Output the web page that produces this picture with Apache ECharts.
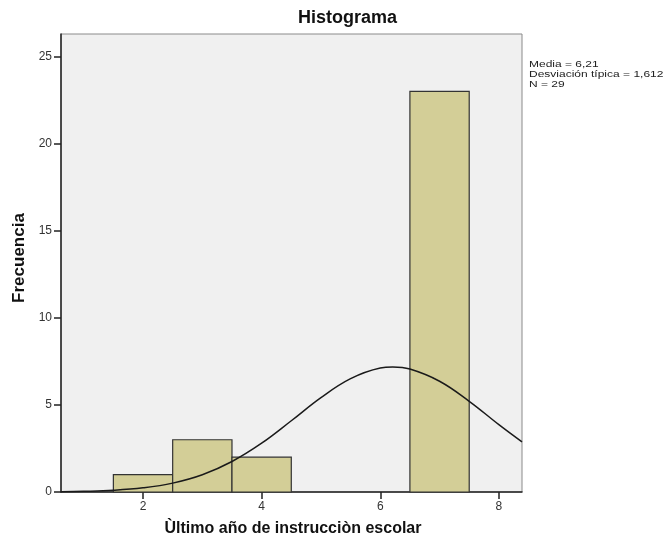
<!DOCTYPE html>
<html>
<head>
<meta charset="utf-8">
<script src="https://cdn.jsdelivr.net/npm/echarts@6/dist/echarts.min.js"></script>
<style>html,body{margin:0;padding:0;background:#fff}#c{width:665px;height:540px}</style>
</head>
<body>
<div id="c"></div>
<script>
// Histogram bins: [start, end]
var binStarts = [1.5, 2.5, 3.5, 6.5];
var binEnds = [2.5, 3.5, 4.5, 7.5];
var binCounts = [1, 3, 2, 23];
// Normal curve points
var curveX = [0.62, 1, 1.5, 2, 2.5, 3, 3.5, 4, 4.5, 5, 5.5, 6, 6.21, 6.5, 7, 7.5, 8, 8.39];
var curveY = [0.02, 0.04, 0.10, 0.24, 0.51, 0.99, 1.75, 2.80, 4.09, 5.42, 6.51, 7.12, 7.18, 7.06, 6.36, 5.21, 3.87, 2.88];
var xTicks = [2, 4, 6, 8];
var yTicks = [0, 5, 10, 15, 20, 25];
var titleText = 'Histograma';
var xName = 'Ùltimo año de instrucciòn escolar';
var yName = 'Frecuencia';
var statsLines = ['Media = 6,21', 'Desviación típica = 1,612', 'N = 29'];

var font = 'Arial, "Liberation Sans", sans-serif';
var chart = echarts.init(document.getElementById('c'), null, {renderer: 'canvas'});

var barData = binStarts.map(function (s, i) { return [s, binEnds[i], binCounts[i]]; });
var curveData = curveX.map(function (x, i) { return [x, curveY[i]]; });

chart.setOption({
  animation: false,
  backgroundColor: '#ffffff',
  grid: {
    left: 61, top: 34, right: 143, bottom: 48,
    show: true, backgroundColor: '#F0F0F0', borderColor: '#8a8a8a', borderWidth: 1
  },
  xAxis: {
    type: 'value', min: 0.617, max: 8.39,
    splitLine: {show: false},
    axisLine: {show: true, onZero: false, lineStyle: {color: '#222', width: 1.5}},
    axisTick: {show: true, length: 7, customValues: xTicks, lineStyle: {color: '#222', width: 1.5}},
    axisLabel: {customValues: xTicks, color: '#333', fontFamily: font, fontSize: 12, margin: 9}
  },
  yAxis: {
    type: 'value', min: 0, max: 26.3,
    splitLine: {show: false},
    axisLine: {show: true, lineStyle: {color: '#222', width: 1.5}},
    axisTick: {show: true, length: 7, customValues: yTicks, lineStyle: {color: '#222', width: 1.5}},
    axisLabel: {customValues: yTicks, color: '#333', fontFamily: font, fontSize: 12, margin: 9}
  },
  series: [
    {
      type: 'custom',
      data: barData,
      encode: {x: [0, 1], y: 2},
      renderItem: function (params, api) {
        var p0 = api.coord([api.value(0), 0]);
        var p1 = api.coord([api.value(1), api.value(2)]);
        return {
          type: 'rect',
          shape: {x: p0[0], y: p1[1], width: p1[0] - p0[0], height: p0[1] - p1[1]},
          style: {fill: '#D3CE97', stroke: '#333333', lineWidth: 1.2}
        };
      },
      z: 2
    },
    {
      type: 'line',
      data: curveData,
      smooth: 0.4,
      showSymbol: false,
      symbol: 'none',
      clip: true,
      lineStyle: {color: '#1a1a1a', width: 1.5},
      z: 3
    }
  ],
  graphic: [
    {type: 'text', left: 298, top: 9, style: {text: titleText, font: 'bold 18px ' + font, fill: '#111'}},
    {type: 'text', x: 19, y: 258, rotation: Math.PI / 2,
      style: {text: yName, font: 'bold 17px ' + font, fill: '#111', align: 'center', verticalAlign: 'middle'}},
    {type: 'text', x: 293, y: 529,
      style: {text: xName, font: 'bold 16px ' + font, fill: '#111', align: 'center', verticalAlign: 'middle'}},
    {type: 'text', x: 529, y: 60, scaleX: 1, scaleY: 0.8,
      style: {text: statsLines.join('\n'), font: '12px ' + font, lineHeight: 12, fill: '#222', align: 'left', verticalAlign: 'top'}}
  ]
});
</script>
</body>
</html>
